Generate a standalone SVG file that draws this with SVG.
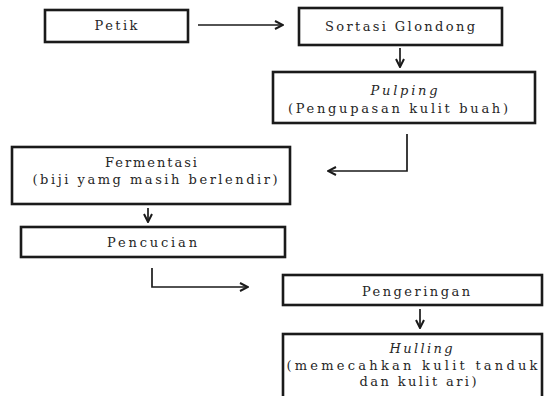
<svg xmlns="http://www.w3.org/2000/svg" width="544" height="396" viewBox="0 0 544 396">
<style>
.box{fill:#fff;stroke:#1a1a1a;stroke-width:2.6}
.t{font-family:"DejaVu Serif","Liberation Serif",serif;font-size:13px;fill:#262626;text-anchor:middle}
.i{font-style:italic}
.c{fill:none;stroke:#1a1a1a;stroke-width:1.7}
</style>
<defs>
<marker id="ah" viewBox="0 0 10 10" refX="9" refY="5" markerWidth="10" markerHeight="10" markerUnits="userSpaceOnUse" orient="auto">
<path d="M1,1 L9,5 L1,9" fill="none" stroke="#1a1a1a" stroke-width="2"/>
</marker>
</defs>
<rect width="544" height="396" fill="#fff"/>
<g id="connectors">
<line class="c" x1="198" y1="25" x2="283" y2="25" marker-end="url(#ah)"/>
<line class="c" x1="400" y1="48" x2="400" y2="67" marker-end="url(#ah)"/>
<polyline class="c" points="407,134 407,171 328,171" marker-end="url(#ah)"/>
<line class="c" x1="148" y1="208" x2="148" y2="222" marker-end="url(#ah)"/>
<polyline class="c" points="152,268 152,287 248,287" marker-end="url(#ah)"/>
<line class="c" x1="420" y1="309" x2="420" y2="328" marker-end="url(#ah)"/>
</g>
<g id="petik">
<rect class="box" x="45" y="10" width="143" height="32"/>
<text class="t" x="116" y="30" textLength="43" lengthAdjust="spacing">Petik</text>
</g>
<g id="sortasi">
<rect class="box" x="299" y="8" width="203" height="37"/>
<text class="t" x="400" y="31" textLength="150" lengthAdjust="spacing">Sortasi Glondong</text>
</g>
<g id="pulping">
<rect class="box" x="273" y="72" width="262" height="51"/>
<text class="t i" x="404" y="95" textLength="67" lengthAdjust="spacing">Pulping</text>
<text class="t" x="398" y="113" textLength="220" lengthAdjust="spacing">(Pengupasan kulit buah)</text>
</g>
<g id="fermentasi">
<rect class="box" x="12" y="147" width="278" height="57"/>
<text class="t" x="151" y="167" textLength="92" lengthAdjust="spacing">Fermentasi</text>
<text class="t" x="155" y="184" textLength="245" lengthAdjust="spacing">(biji yamg masih berlendir)</text>
</g>
<g id="pencucian">
<rect class="box" x="21" y="227" width="264" height="30"/>
<text class="t" x="152" y="247" textLength="90" lengthAdjust="spacing">Pencucian</text>
</g>
<g id="pengeringan">
<rect class="box" x="283" y="275" width="259" height="30"/>
<text class="t" x="416" y="296" textLength="108" lengthAdjust="spacing">Pengeringan</text>
</g>
<g id="hulling">
<rect class="box" x="283" y="334" width="259" height="70"/>
<text class="t i" x="421" y="353" textLength="63" lengthAdjust="spacing">Hulling</text>
<text class="t" x="412" y="370" textLength="251" lengthAdjust="spacing">(memecahkan kulit tanduk</text>
<text class="t" x="418" y="386" textLength="117" lengthAdjust="spacing">dan kulit ari)</text>
</g>
</svg>
